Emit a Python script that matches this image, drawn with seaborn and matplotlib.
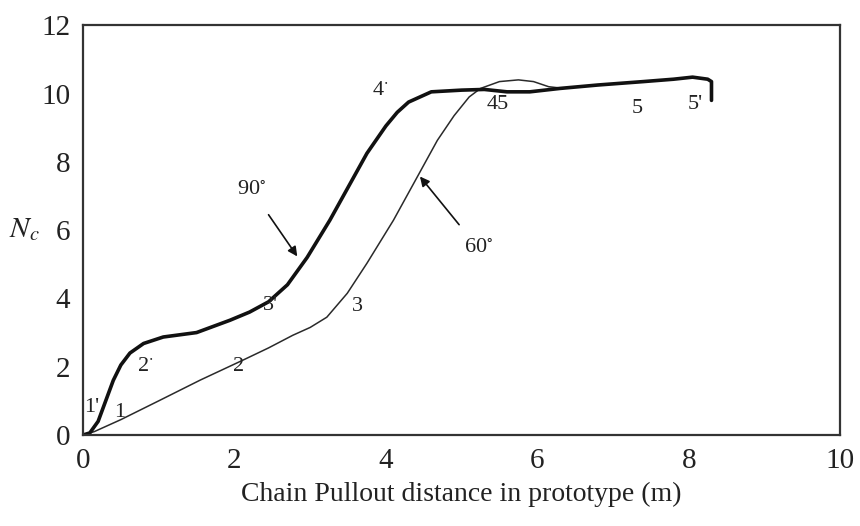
import matplotlib
matplotlib.use("Agg")
import matplotlib.pyplot as plt
import seaborn as sns
import pandas as pd

# 90 degree curve (thick)
x90 = [0, 0.09, 0.2, 0.3, 0.4, 0.5, 0.62, 0.8, 1.06, 1.5, 1.94, 2.2, 2.45, 2.7, 2.96, 3.26,
       3.5, 3.75, 4.0, 4.15, 4.3, 4.6, 5.0, 5.3, 5.6, 5.9, 6.3, 6.8, 7.4, 7.8, 8.05, 8.25, 8.3, 8.3]
y90 = [0, 0.06, 0.4, 1.0, 1.6, 2.05, 2.4, 2.68, 2.87, 3.0, 3.36, 3.6, 3.9, 4.4, 5.2, 6.29,
       7.25, 8.25, 9.05, 9.45, 9.75, 10.05, 10.1, 10.12, 10.05, 10.05, 10.15, 10.25, 10.35, 10.42,
       10.48, 10.42, 10.35, 9.8]

# 60 degree curve (thin)
x60 = [0, 0.15, 0.5, 1.0, 1.55, 2.11, 2.45, 2.77, 3.0, 3.22, 3.49, 3.75, 4.1, 4.41, 4.68,
       4.9, 5.1, 5.25, 5.5, 5.75, 5.95, 6.15, 6.35]
y60 = [0, 0.1, 0.45, 1.0, 1.61, 2.19, 2.55, 2.92, 3.15, 3.45, 4.15, 5.03, 6.29, 7.54, 8.63,
       9.35, 9.9, 10.15, 10.35, 10.4, 10.35, 10.2, 10.15]

# point labels
pt_text = ["1'", "1", "2$^{\\cdot}$", "2", "3'", "3", "4$^{\\cdot}$", "45", "5", "5'"]
pt_x = [0.12, 0.49, 0.82, 2.05, 2.47, 3.63, 3.92, 5.48, 7.32, 8.08]
pt_y = [0.8, 0.67, 2.0, 2.0, 3.8, 3.77, 10.1, 9.68, 9.56, 9.68]

xticks = [0, 2, 4, 6, 8, 10]
yticks = [0, 2, 4, 6, 8, 10, 12]

sns.set_theme(style="white")
plt.rcParams["font.family"] = ["Liberation Serif", "DejaVu Serif"]
plt.rcParams["mathtext.fontset"] = "stix"

fig = plt.figure(figsize=(8.6, 5.26), dpi=100)
ax = fig.add_axes([0.0965, 0.173, 0.8805, 0.779])

df60 = pd.DataFrame({"x": x60, "y": y60})
df90 = pd.DataFrame({"x": x90, "y": y90})
sns.lineplot(data=df60, x="x", y="y", sort=False, estimator=None, color="#2a2a2a", lw=1.1, ax=ax)
sns.lineplot(data=df90, x="x", y="y", sort=False, estimator=None, color="#111111", lw=2.6, ax=ax)

ax.set_xlim(0, 10)
ax.set_ylim(0, 12)
ax.set_xticks(xticks)
ax.set_yticks(yticks)
ax.tick_params(axis="both", direction="out", length=5, width=1.3, color="#333333",
               labelsize=21, pad=4, labelcolor="#222222")
for s in ax.spines.values():
    s.set_color("#333333")
    s.set_linewidth(1.6)

ax.set_xlabel("Chain Pullout distance in prototype (m)", fontsize=20, color="#222222", labelpad=6)
ax.set_ylabel(r"$N_c$", rotation=0, fontsize=21, color="#222222", va="center")
ax.yaxis.set_label_coords(-0.077, 0.5)

for t, xx, yy in zip(pt_text, pt_x, pt_y):
    ax.text(xx, yy, t, fontsize=16, ha="center", va="center", color="#222222")

ax.annotate("90$^{\\circ}$", xy=(2.83, 5.23), xytext=(2.23, 7.16), fontsize=16,
            ha="center", va="center", color="#222222",
            arrowprops=dict(arrowstyle="-|>", color="#111111", lw=1.2, mutation_scale=14,
                            shrinkA=10, shrinkB=0))
ax.annotate("60$^{\\circ}$", xy=(4.45, 7.57), xytext=(5.22, 5.47), fontsize=16,
            ha="center", va="center", color="#222222",
            arrowprops=dict(arrowstyle="-|>", color="#111111", lw=1.2, mutation_scale=14,
                            shrinkA=10, shrinkB=0))

fig.savefig("out.png", dpi=100)
